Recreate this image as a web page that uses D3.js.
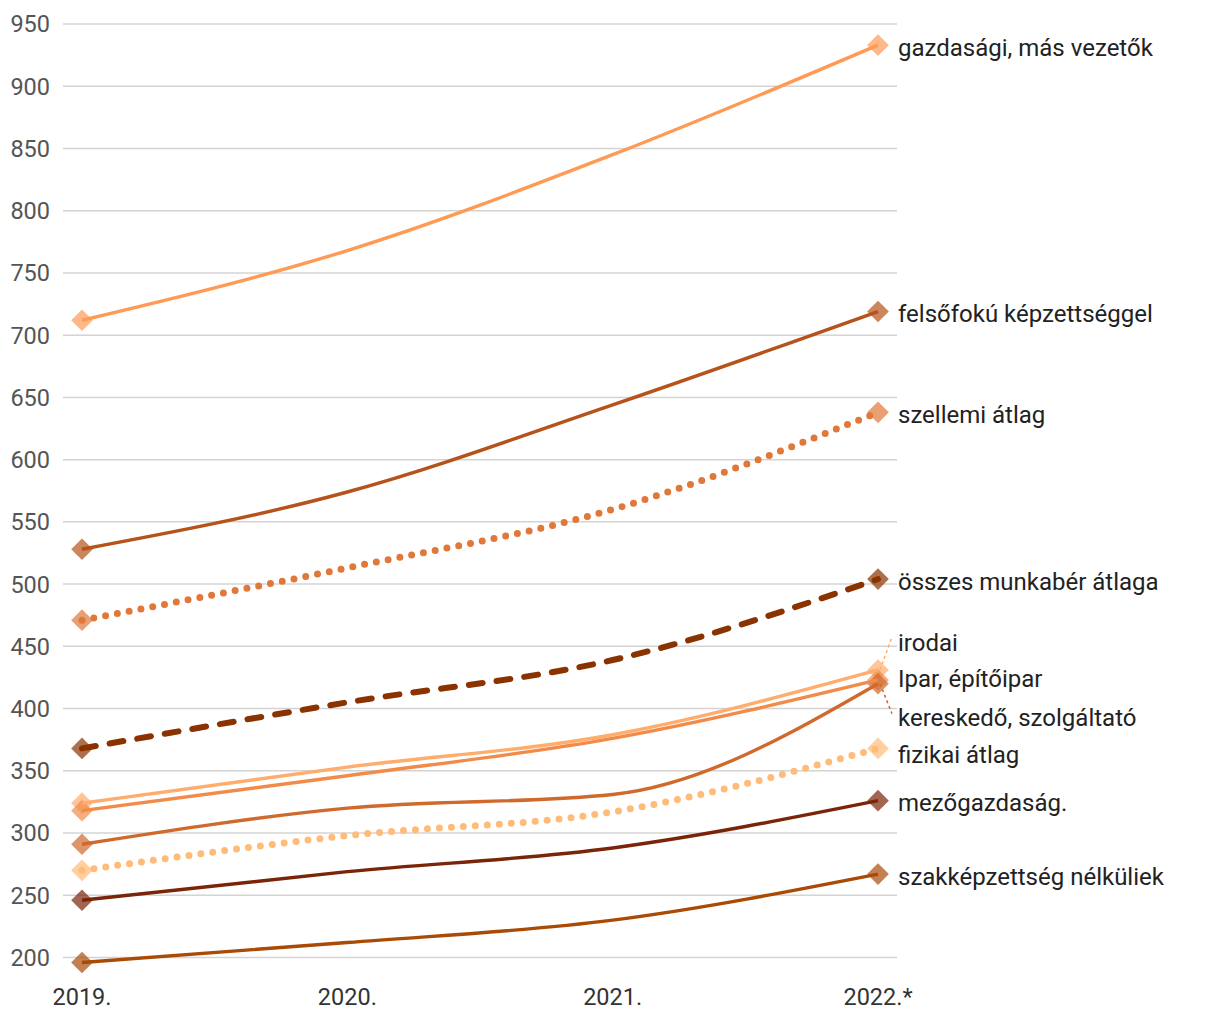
<!DOCTYPE html>
<html><head><meta charset="utf-8">
<script src="https://cdn.jsdelivr.net/npm/d3@7"></script>
<style>body{margin:0;background:#fff;font-family:Roboto,"Noto Sans",sans-serif;}</style>
</head><body><svg id="c" width="1220" height="1020"></svg>
<script>
const years = ["2019.", "2020.", "2021.", "2022.*"];
const yTicks = [200,250,300,350,400,450,500,550,600,650,700,750,800,850,900,950];
const names = ["gazdasági, más vezetők","felsőfokú képzettséggel","szellemi átlag","összes munkabér átlaga","irodai","Ipar, építőipar","kereskedő, szolgáltató","fizikai átlag","mezőgazdaság.","szakképzettség nélküliek"];
const vGazd = [712, 768, 845, 933];
const vFelso = [528, 574, 644, 719];
const vSzell = [471, 513, 560, 638];
const vOssz = [368, 405, 439, 504];
const vIrodai = [324, 353, 379, 431];
const vIpar = [318, 346, 376, 423];
const vKer = [291, 320, 331, 420];
const vFiz = [270, 298, 317, 368];
const vMezo = [246, 269, 288, 326];
const vSzak = [196, 212, 230, 267];
const values = [vGazd, vFelso, vSzell, vOssz, vIrodai, vIpar, vKer, vFiz, vMezo, vSzak];
const colors = ["#ff9a55","#b5531a","#e0783a","#8a3300","#ffac6c","#f28a4a","#cf6a2c","#ffbb78","#7a2408","#a94a05"];
const styles = ["solid","solid","dot","dash","solid","solid","solid","dot","solid","solid"];
const labelOffsets = [0,0,0,0,-30,-4,32,4,0,0];

const svg = d3.select("#c");
const x = d3.scalePoint().domain(years).range([82, 878]);
const y = d3.scaleLinear().domain([200, 950]).range([957.5, 24]);

const g = svg.append("g");
g.selectAll("line.grid").data(yTicks).join("line")
  .attr("x1", 63).attr("x2", 897)
  .attr("y1", d => y(d)).attr("y2", d => y(d))
  .attr("stroke", "#d4d4d4").attr("stroke-width", 1.5);
g.selectAll("text.yt").data(yTicks).join("text")
  .attr("x", 50).attr("y", d => y(d)).attr("dy", "0.36em")
  .attr("text-anchor", "end").attr("font-size", 23.5).attr("fill", "#555")
  .text(d => d);
g.selectAll("text.xt").data(years).join("text")
  .attr("x", d => x(d)).attr("y", 1005)
  .attr("text-anchor", "middle").attr("font-size", 23.5).attr("fill", "#333")
  .text(d => d);

const line = d3.line().x((d,i) => x(years[i])).y(d => y(d)).curve(d3.curveMonotoneX);
const diamond = d3.symbol().type(d3.symbolDiamond2).size(300);

// markers (under lines)
values.forEach((vals, k) => {
  [0, 3].forEach(i => {
    svg.append("path").attr("d", diamond())
      .attr("transform", `translate(${x(years[i])},${y(vals[i])})`)
      .attr("fill", colors[k]).attr("opacity", 0.7);
  });
});
// lines
values.forEach((vals, k) => {
  const p = svg.append("path").attr("d", line(vals)).attr("fill", "none")
    .attr("stroke", colors[k]);
  if (styles[k] === "solid") p.attr("stroke-width", 3.4);
  else if (styles[k] === "dot") p.attr("stroke-width", 7).attr("stroke-dasharray", "0,12").attr("stroke-linecap", "round");
  else p.attr("stroke-width", 6).attr("stroke-dasharray", "14,14").attr("stroke-linecap", "round");
});
// leader lines
const leaders = [[4, -33], [6, 30]];
leaders.forEach(([k, dyL]) => {
  const y0 = y(values[k][3]);
  svg.append("line").attr("x1", 880).attr("y1", y0)
    .attr("x2", 892).attr("y2", y0 + dyL)
    .attr("stroke", colors[k]).attr("stroke-width", 1.5).attr("stroke-dasharray", "3,3");
});
// labels
svg.selectAll("text.lab").data(names).join("text")
  .attr("x", 898).attr("y", (d,k) => y(values[k][3]) + labelOffsets[k]).attr("dy", "0.45em")
  .attr("font-size", 24).attr("fill", "#222").text(d => d);
</script></body></html>
